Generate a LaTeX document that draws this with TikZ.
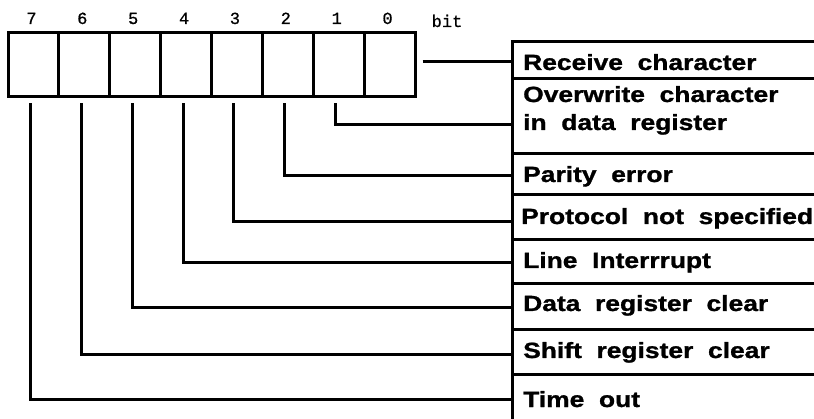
\documentclass[tikz,border=0pt]{standalone}
\usepackage{fontspec}
\newfontfamily\lblfont{Liberation Sans}[FakeStretch=1.2,WordSpace=2.0,FakeBold=1.2]
\newfontfamily\monofont{Liberation Mono}[FakeBold=0.8]
\begin{document}
\begin{tikzpicture}[x=1pt,y=-1pt,
  reg/.style={line width=3pt},
  cell/.style={draw,line width=3pt,minimum width=50.875pt,minimum height=64pt,inner sep=0pt},
  bitnum/.style={font=\monofont\fontsize{17pt}{17pt}\selectfont,inner sep=0pt,anchor=base},
  lbl/.style={font=\lblfont\bfseries\fontsize{22pt}{28pt}\selectfont,inner sep=0pt,anchor=base west,align=left},
  conn/.style={line width=3pt}]
\useasboundingbox (0,0) rectangle (814,419);
\clip (0,0) rectangle (814,419);
% register cells
\foreach \i in {0,...,7}{
  \node[cell] (c\i) at ({8+50.875*(7-\i+0.5)},65) {};
  \node[bitnum] (b\i) at ({8+50.875*(7-\i+0.5)-2},24) {\i};
}
\node[bitnum,anchor=base] (bitlbl) at (447,27) {bit};
% table
\draw[reg] (512,430) -- (512,42) -- (830,42);
\foreach \y in {79,154,195,240,284,330,375}{
  \draw[reg] (512,\y) -- (830,\y);
}
% connector end points on table edge
\coordinate (e0) at (512,62);
\coordinate (e1) at (512,125);
\coordinate (e2) at (512,176);
\coordinate (e3) at (512,222);
\coordinate (e4) at (512,263);
\coordinate (e5) at (512,308);
\coordinate (e6) at (512,355);
\coordinate (e7) at (512,400);
% labels
\node[lbl] (r0) at (523,70) {Receive character};
\node[lbl] (r1) at (523,130) {Overwrite character\\in data register};
\node[lbl] (r2) at (523,182) {Parity error};
\node[lbl] (r3) at (521,224) {Protocol not specified};
\node[lbl] (r4) at (523,268) {Line Interrrupt};
\node[lbl] (r5) at (523,311) {Data register clear};
\node[lbl] (r6) at (523,358) {Shift register clear};
\node[lbl] (r7) at (523,407) {Time out};
% connectors
\draw[conn] ([xshift=6pt]c0.east |- e0) -- (e0);
\foreach \i in {1,...,7}{
  \draw[conn] ([xshift=-3pt,yshift=-5pt]c\i.south) |- (e\i);
}
\end{tikzpicture}
\end{document}
